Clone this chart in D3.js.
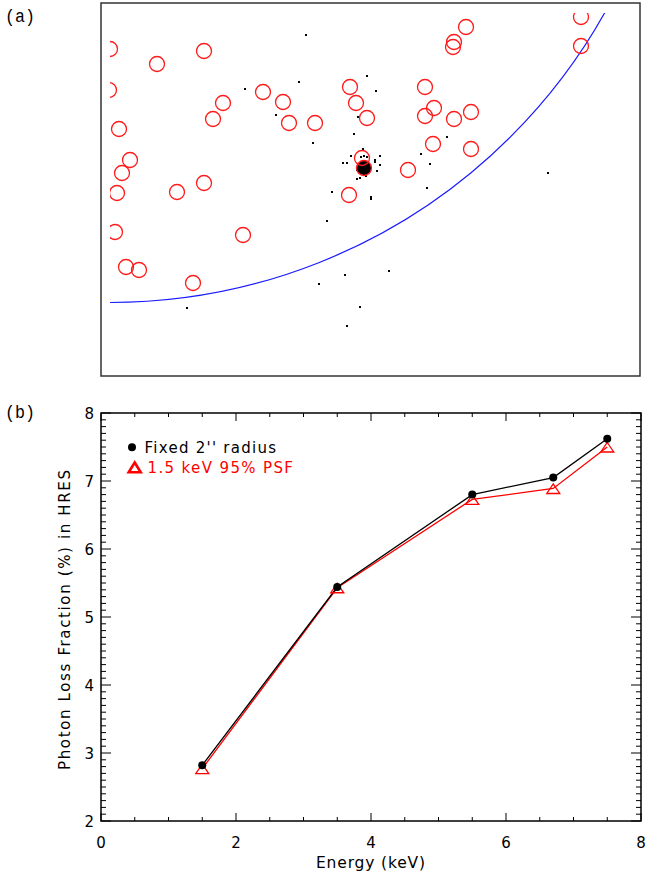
<!DOCTYPE html>
<html><head><meta charset="utf-8">
<script src="https://cdn.jsdelivr.net/npm/d3@7"></script>
<style>body{margin:0;background:#fff}svg{display:block}</style>
</head><body>
<script>
// ---------- Panel (a): image coordinates (pixels in the image frame) ----------
const srcX = [9,56,103,8,162,182,122,112,188,214,18,29,21,103,76,16,14,142,25,38,92,480,480,365,353,352,249,324,255,333,324,266,353,370,332,370,261,263,307,248];
const srcY = [46,61,48,87,89,99,100,116,120,120,126,157,170,180,189,190,229,232,264,267,280,14,43,24,39,44,84,84,100,105,113,115,116,109,141,146,155,165,167,192];
const evtX = [205,198,144,175,212,266,275,257,253,346,320,329,447,326,231,270,270,262,250,279,242,246,279,274,274,276,256,259,265,226,288,244,218,259,246,86,260,263,266,256];
const evtY = [32,79,86,112,140,73,88,114,131,134,151,161,170,185,189,194,196,146,153,153,160,160,162,157,159,168,176,175,173,218,268,272,281,304,323,305,154,153,154,167];
const coreX = [263], coreY = [165], coreR = [7.2];
const arcCx = 9, arcCy = -267.5, arcR = 567;

// ---------- Panel (b) ----------
const energy = [1.5, 3.5, 5.5, 6.7, 7.5];
const fixedRadius = [2.82, 5.44, 6.80, 7.05, 7.62];
const psf95 = [2.77, 5.43, 6.73, 6.89, 7.50];
const xTicks = [0, 2, 4, 6, 8];
const yTicks = [2, 3, 4, 5, 6, 7, 8];
const legendLabels = ["Fixed 2'' radius", "1.5 keV 95% PSF"];

const W = 646, H = 875;
const svg = d3.select("body").append("svg").attr("width", W).attr("height", H);
const sans = "'DejaVu Sans', sans-serif";
const mono = "'Liberation Mono', 'DejaVu Sans Mono', monospace";

// ----- (a) -----
const ax = d3.scaleLinear().domain([0, 539]).range([101, 640]);
const ay = d3.scaleLinear().domain([0, 373]).range([3, 376]);
svg.append("text").attr("x", 5).attr("y", 22).attr("font-family", mono).attr("font-size", 18.5)
  .attr("textLength", 30).attr("lengthAdjust", "spacingAndGlyphs").text("(a)");
const defs = svg.append("defs");
defs.append("clipPath").attr("id", "imgclip").append("rect")
  .attr("x", ax(9)).attr("y", ay(10)).attr("width", ax(520) - ax(9)).attr("height", ay(367) - ay(10));
const ga = svg.append("g").attr("clip-path", "url(#imgclip)");
ga.append("circle").attr("cx", ax(arcCx)).attr("cy", ay(arcCy)).attr("r", ax(arcR) - ax(0))
  .attr("fill", "none").attr("stroke", "#1a1aff").attr("stroke-width", 1.2);
ga.selectAll("rect.ev").data(evtX).join("rect").attr("class", "ev")
  .attr("x", (d, i) => ax(d) - 1).attr("y", (d, i) => ay(evtY[i]) - 1)
  .attr("width", 2).attr("height", 2).attr("fill", "#000");
ga.selectAll("circle.core").data(coreX).join("circle").attr("class", "core")
  .attr("cx", d => ax(d)).attr("cy", (d, i) => ay(coreY[i])).attr("r", (d, i) => coreR[i]).attr("fill", "#000");
ga.selectAll("circle.src").data(srcX).join("circle").attr("class", "src")
  .attr("cx", d => ax(d)).attr("cy", (d, i) => ay(srcY[i])).attr("r", 7.5)
  .attr("fill", "none").attr("stroke", "#ff1a1a").attr("stroke-width", 1.3);
svg.append("rect").attr("x", ax(0)).attr("y", ay(0)).attr("width", ax(539) - ax(0)).attr("height", ay(373) - ay(0))
  .attr("fill", "none").attr("stroke", "#333").attr("stroke-width", 1.5);

// ----- (b) -----
const x = d3.scaleLinear().domain([0, 8]).range([101, 641]);
const y = d3.scaleLinear().domain([2, 8]).range([821, 413]);
svg.append("text").attr("x", 5).attr("y", 418).attr("font-family", mono).attr("font-size", 18.5)
  .attr("textLength", 30).attr("lengthAdjust", "spacingAndGlyphs").text("(b)");

const xMinor = d3.range(0, 8.001, 0.5);
const yMinor = d3.range(2, 8.001, 0.1);
const gb = svg.append("g").attr("stroke", "#000").attr("stroke-width", 1);
xMinor.forEach(v => {
  const major = Math.abs(v / 2 - Math.round(v / 2)) < 1e-6;
  const L = major ? 8 : 4;
  gb.append("line").attr("x1", x(v)).attr("x2", x(v)).attr("y1", y(2)).attr("y2", y(2) - L);
  gb.append("line").attr("x1", x(v)).attr("x2", x(v)).attr("y1", y(8)).attr("y2", y(8) + L);
});
yMinor.forEach(v => {
  const major = Math.abs(v - Math.round(v)) < 1e-6;
  const L = major ? 10 : 5;
  gb.append("line").attr("x1", x(0)).attr("x2", x(0) + L).attr("y1", y(v)).attr("y2", y(v));
  gb.append("line").attr("x1", x(8)).attr("x2", x(8) - L).attr("y1", y(v)).attr("y2", y(v));
});
svg.append("rect").attr("x", x(0)).attr("y", y(8)).attr("width", x(8) - x(0)).attr("height", y(2) - y(8))
  .attr("fill", "none").attr("stroke", "#000").attr("stroke-width", 1.5);

svg.append("g").selectAll("text").data(xTicks).join("text")
  .attr("x", d => x(d)).attr("y", 848).attr("text-anchor", "middle")
  .attr("font-family", sans).attr("font-size", 15).text(d => d);
svg.append("g").selectAll("text").data(yTicks).join("text")
  .attr("x", 94).attr("y", d => y(d) + 5.5).attr("text-anchor", "end")
  .attr("font-family", sans).attr("font-size", 15).text(d => d);

svg.append("text").attr("x", 370.5).attr("y", 868).attr("text-anchor", "middle")
  .attr("font-family", sans).attr("font-size", 15.5)
  .attr("textLength", 109).attr("lengthAdjust", "spacing").text("Energy (keV)");
svg.append("text").attr("transform", `translate(69.5,620) rotate(-90)`)
  .attr("text-anchor", "middle").attr("font-family", sans).attr("font-size", 15)
  .attr("textLength", 300).attr("lengthAdjust", "spacing")
  .text("Photon Loss Fraction (%) in HRES");

const line = d3.line().x((d, i) => x(energy[i])).y(d => y(d));
svg.append("path").datum(psf95).attr("d", line).attr("fill", "none").attr("stroke", "#ff0000").attr("stroke-width", 1.3);
svg.append("path").datum(fixedRadius).attr("d", line).attr("fill", "none").attr("stroke", "#000").attr("stroke-width", 1.3);

const triPath = (hw, up, down) => `M0,${-up}L${hw},${down}L${-hw},${down}Z`;
svg.append("g").selectAll("path").data(psf95).join("path")
  .attr("transform", (d, i) => `translate(${x(energy[i])},${y(d)})`)
  .attr("d", triPath(6.5, 4.5, 5)).attr("fill", "none").attr("stroke", "#ff0000").attr("stroke-width", 1.3);
svg.append("g").selectAll("circle").data(fixedRadius).join("circle")
  .attr("cx", (d, i) => x(energy[i])).attr("cy", d => y(d)).attr("r", 4).attr("fill", "#000");

// legend
svg.append("circle").attr("cx", 132).attr("cy", 447.3).attr("r", 4).attr("fill", "#000");
svg.append("text").attr("x", 144.5).attr("y", 452.5).attr("font-family", sans).attr("font-size", 15)
  .attr("textLength", 131.5).attr("lengthAdjust", "spacing")
  .attr("fill", "#000").text(legendLabels[0]);
svg.append("path").attr("transform", "translate(134.7,467.5)").attr("d", triPath(6, 5, 4.8))
  .attr("fill", "none").attr("stroke", "#ff0000").attr("stroke-width", 2.6).attr("stroke-linejoin", "miter");
svg.append("text").attr("x", 147.5).attr("y", 472.5).attr("font-family", sans).attr("font-size", 15)
  .attr("textLength", 145.5).attr("lengthAdjust", "spacing")
  .attr("fill", "#ff0000").text(legendLabels[1]);
</script>
</body></html>
